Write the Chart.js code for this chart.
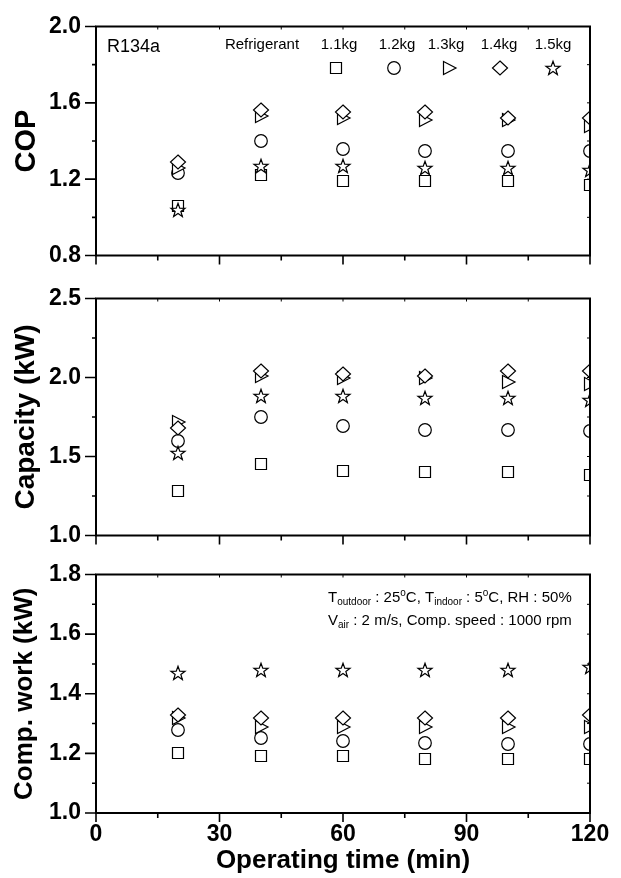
<!DOCTYPE html>
<html>
<head>
<meta charset="utf-8">
<script src="https://cdn.jsdelivr.net/npm/chart.js@4.4.1/dist/chart.umd.min.js"></script>
<style>
body { margin: 0; background: #fff; }
.panel { position: absolute; left: 0; width: 621px; }
</style>
</head>
<body>
<div class="panel" style="top:0px;height:282px"><canvas id="cop" width="621" height="282"></canvas></div>
<div class="panel" style="top:272px;height:290px"><canvas id="capacity" width="621" height="290"></canvas></div>
<div class="panel" style="top:548px;height:330px"><canvas id="work" width="621" height="330"></canvas></div>
<script>
// temps de fonctionnement (min) et charges de R134a
const times = [20, 40, 60, 80, 100, 120]
const charges = ['1.1kg', '1.2kg', '1.3kg', '1.4kg', '1.5kg']
const timeTicks = [0, 30, 60, 90, 120]

// COP, une ligne par charge
const copValues = [
    [1.06, 1.22, 1.19, 1.19, 1.19, 1.17],
    [1.23, 1.40, 1.36, 1.35, 1.35, 1.35],
    [1.26, 1.53, 1.52, 1.51, 1.51, 1.48],
    [1.29, 1.56, 1.55, 1.55, 1.52, 1.52],
    [1.04, 1.27, 1.27, 1.26, 1.26, 1.25]
]
const copTicks = [0.8, 1.2, 1.6, 2.0]

// Capacity (kW)
const capacityValues = [
    [1.28, 1.45, 1.41, 1.40, 1.40, 1.38],
    [1.60, 1.75, 1.69, 1.67, 1.67, 1.66],
    [1.72, 2.01, 2.00, 2.00, 1.97, 1.96],
    [1.68, 2.04, 2.02, 2.01, 2.04, 2.04],
    [1.52, 1.88, 1.88, 1.87, 1.87, 1.86]
]
const capacityTicks = [1.0, 1.5, 2.0, 2.5]

// Comp. work (kW)
const workValues = [
    [1.20, 1.19, 1.19, 1.18, 1.18, 1.18],
    [1.28, 1.25, 1.24, 1.235, 1.23, 1.23],
    [1.32, 1.29, 1.29, 1.29, 1.29, 1.29],
    [1.33, 1.32, 1.32, 1.32, 1.32, 1.33],
    [1.47, 1.48, 1.48, 1.48, 1.48, 1.49]
]
const workTicks = [1.0, 1.2, 1.4, 1.6, 1.8]

const FONT = "'Liberation Sans', Arial, sans-serif"
Chart.defaults.font.family = FONT
Chart.defaults.color = '#000'

// symboles ouverts : carré, cercle, triangle, losange, étoile
function makeMarker(shape) {
    const c = document.createElement('canvas')
    c.width = 20
    c.height = 20
    const g = c.getContext('2d')
    const m = 10
    g.beginPath()
    if (shape === 'square') {
        g.rect(m - 5.5, m - 5.5, 11, 11)
    } else if (shape === 'circle') {
        g.arc(m, m, 6.3, 0, Math.PI * 2)
    } else if (shape === 'triangle') {
        g.moveTo(m - 5.5, m - 6.5)
        g.lineTo(m + 7, m)
        g.lineTo(m - 5.5, m + 6.5)
        g.closePath()
    } else if (shape === 'diamond') {
        g.moveTo(m, m - 7)
        g.lineTo(m + 7.5, m)
        g.lineTo(m, m + 7)
        g.lineTo(m - 7.5, m)
        g.closePath()
    } else {
        for (let k = 0; k < 10; k++) {
            const r = k % 2 ? 3 : 7.4
            const ang = -Math.PI / 2 + k * Math.PI / 5
            const px = m + r * Math.cos(ang), py = m + 0.6 + r * Math.sin(ang)
            if (k === 0) g.moveTo(px, py)
            else g.lineTo(px, py)
        }
        g.closePath()
    }
    g.fillStyle = '#fff'
    g.fill()
    g.lineWidth = 1.2
    g.strokeStyle = '#000'
    g.stroke()
    return c
}
const markers = ['square', 'circle', 'triangle', 'diamond', 'star'].map(makeMarker)

function makeDatasets(values) {
    return values.map((vals, i) => ({
        label: charges[i],
        data: times.map((t, k) => ({ x: t, y: vals[k] })),
        pointStyle: markers[i],
        pointRadius: 7,
        showLine: false,
        clip: 0,
        order: values.length - i
    }))
}

function midpoints(arr) {
    let res = []
    for (let i = 1; i < arr.length; i++) res.push((arr[i - 1] + arr[i]) / 2)
    return res
}

// cadre + graduations (majeures et mineures)
const framePlugin = {
    id: 'frame',
    beforeDatasetsDraw(chart) {
        chart.ctx.imageSmoothingEnabled = false // symboles nets
    },
    afterDatasetsDraw(chart) {
        const { ctx, chartArea: a } = chart
        ctx.imageSmoothingEnabled = true
        const xs = chart.scales.x, ys = chart.scales.y
        const yTicks = ys.ticks.map(t => t.value)
        ctx.save()
        ctx.strokeStyle = '#000'
        ctx.lineWidth = 1.6
        ctx.beginPath()
        timeTicks.forEach(v => { const p = xs.getPixelForValue(v); ctx.moveTo(p, a.bottom); ctx.lineTo(p, a.bottom + 9) })
        midpoints(timeTicks).forEach(v => { const p = xs.getPixelForValue(v); ctx.moveTo(p, a.bottom); ctx.lineTo(p, a.bottom + 5) })
        yTicks.forEach(v => { const p = ys.getPixelForValue(v); ctx.moveTo(a.left, p); ctx.lineTo(a.left - 11, p) })
        midpoints(yTicks).forEach(v => { const p = ys.getPixelForValue(v); ctx.moveTo(a.left, p); ctx.lineTo(a.left - 4, p) })
        ctx.stroke()
        ctx.lineWidth = 1
        ctx.beginPath()
        timeTicks.concat(midpoints(timeTicks)).forEach(v => { const p = xs.getPixelForValue(v); ctx.moveTo(p, a.top); ctx.lineTo(p, a.top + 3) })
        yTicks.concat(midpoints(yTicks)).forEach(v => { const p = ys.getPixelForValue(v); ctx.moveTo(a.right, p); ctx.lineTo(a.right - 3, p) })
        ctx.stroke()
        ctx.lineWidth = 2
        ctx.strokeRect(a.left, a.top, a.right - a.left, a.bottom - a.top)
        ctx.restore()
    }
}

// écrit une suite de morceaux (indices / exposants)
function drawRuns(ctx, x, y, runs) {
    runs.forEach(r => {
        ctx.font = r[1] + 'px ' + FONT
        ctx.fillText(r[0], x, y + (r[2] || 0))
        x += ctx.measureText(r[0]).width
    })
}

const legendPlugin = {
    id: 'refLegend',
    afterDraw(chart) {
        const { ctx, chartArea: a } = chart
        ctx.save()
        ctx.fillStyle = '#000'
        ctx.textBaseline = 'alphabetic'
        ctx.font = '18px ' + FONT
        ctx.textAlign = 'left'
        ctx.fillText('R134a', a.left + 11, a.top + 25)
        ctx.font = '15px ' + FONT
        ctx.textAlign = 'center'
        ctx.fillText('Refrigerant', a.left + 166, a.top + 22)
        const labelX = [243, 301, 350, 403, 457]
        const markX = [240, 298, 353, 403.5, 457]
        charges.forEach((c, i) => {
            ctx.fillText(c, a.left + labelX[i], a.top + 22)
            const m = markers[i]
            ctx.drawImage(m, Math.round(a.left + markX[i] - m.width / 2), Math.round(a.top + 41 - m.height / 2))
        })
        ctx.restore()
    }
}

const conditionsPlugin = {
    id: 'conditions',
    afterDraw(chart) {
        const { ctx, chartArea: a } = chart
        ctx.save()
        ctx.fillStyle = '#000'
        ctx.textAlign = 'left'
        ctx.textBaseline = 'alphabetic'
        const x = a.left + 232
        drawRuns(ctx, x, a.top + 27.5, [['T', 15], ['outdoor', 10, 3], [' : 25', 15], ['o', 10, -6], ['C, T', 15], ['indoor', 10, 3], [' : 5', 15], ['o', 10, -6], ['C, RH : 50%', 15]])
        drawRuns(ctx, x, a.top + 50, [['V', 15], ['air', 10, 3], [' : 2 m/s, Comp. speed : 1000 rpm', 15]])
        ctx.restore()
    }
}

function yScale(ticks, title, size) {
    return {
        type: 'linear',
        min: ticks[0],
        max: ticks[ticks.length - 1],
        afterBuildTicks: s => { s.ticks = ticks.map(v => ({ value: v })) },
        afterFit: s => { s.width = 96 },
        grid: { display: false, drawTicks: false },
        border: { display: false },
        ticks: { padding: 15, font: { size: 23, weight: 'bold', lineHeight: 1 }, callback: v => v.toFixed(1) },
        title: { display: true, text: title, font: { size: size, weight: 'bold', lineHeight: 1 }, padding: { top: 12, bottom: 0 } }
    }
}

function xScale(showLabels, height) {
    return {
        type: 'linear',
        min: 0,
        max: 120,
        afterBuildTicks: s => { s.ticks = timeTicks.map(v => ({ value: v })) },
        afterFit: s => { s.height = height },
        grid: { display: false, drawTicks: false },
        border: { display: false },
        ticks: { display: showLabels, padding: 10, maxRotation: 0, autoSkip: false, font: { size: 23, weight: 'bold', lineHeight: 1 } },
        title: { display: showLabels, text: 'Operating time (min)', font: { size: 26, weight: 'bold', lineHeight: 1 }, padding: { top: 0, bottom: 4 } }
    }
}

function makeChart(id, values, ticks, title, titleSize, padTop, xHeight, showX, extra) {
    return new Chart(document.getElementById(id), {
        type: 'scatter',
        data: { datasets: makeDatasets(values) },
        options: {
            responsive: false,
            animation: false,
            events: [],
            layout: { padding: { top: padTop, right: 31, left: 0, bottom: 0 } },
            plugins: { legend: { display: false }, tooltip: { enabled: false } },
            scales: { x: xScale(showX, xHeight), y: yScale(ticks, title, titleSize) }
        },
        plugins: [framePlugin].concat(extra)
    })
}

makeChart('cop', copValues, copTicks, 'COP', 29, 23, 17, false, [legendPlugin])
makeChart('capacity', capacityValues, capacityTicks, 'Capacity (kW)', 28, 25, 23, false, [])
makeChart('work', workValues, workTicks, 'Comp. work (kW)', 26, 22, 65, true, [conditionsPlugin])
</script>
</body>
</html>
